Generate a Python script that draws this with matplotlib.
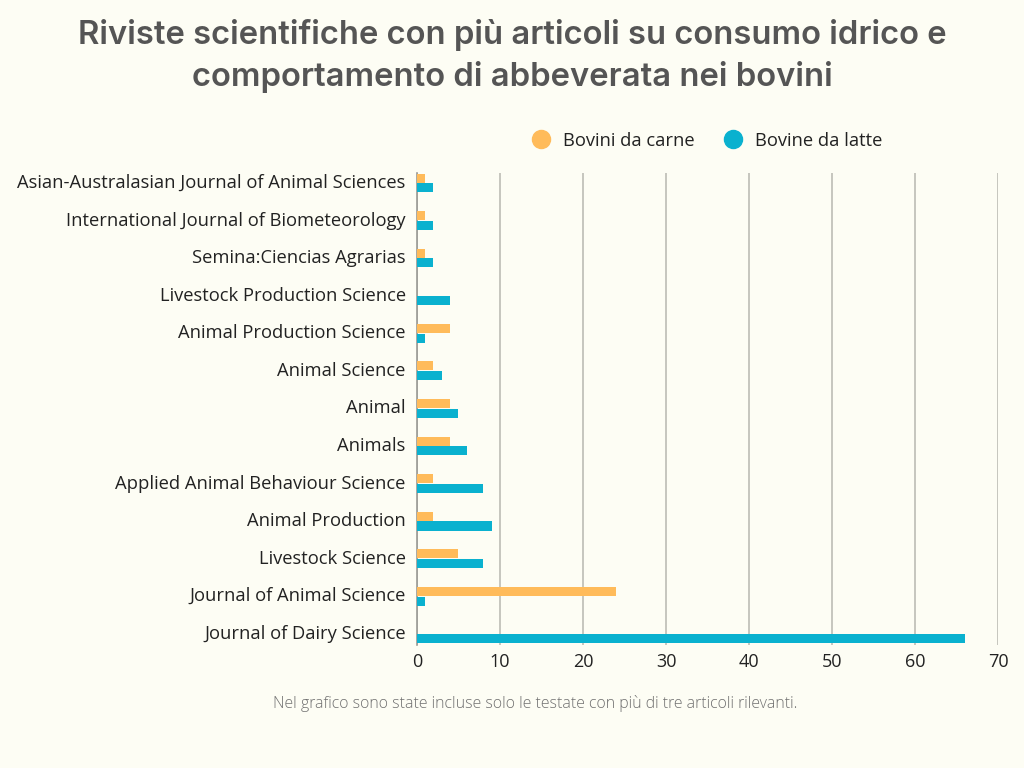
import matplotlib
matplotlib.use("Agg")
import matplotlib.pyplot as plt
import numpy as np
from matplotlib.lines import Line2D
from matplotlib.transforms import ScaledTranslation

journals = [
    "Asian-Australasian Journal of Animal Sciences",
    "International Journal of Biometeorology",
    "Semina:Ciencias Agrarias",
    "Livestock Production Science",
    "Animal Production Science",
    "Animal Science",
    "Animal",
    "Animals",
    "Applied Animal Behaviour Science",
    "Animal Production",
    "Livestock Science",
    "Journal of Animal Science",
    "Journal of Dairy Science",
]
carne = [1, 1, 1, 0, 4, 2, 4, 4, 2, 2, 5, 24, 0]
latte = [2, 2, 2, 4, 1, 3, 5, 6, 8, 9, 8, 1, 66]
series_names = ["Bovini da carne", "Bovine da latte"]
xticks = [0, 10, 20, 30, 40, 50, 60, 70]

BG = "#FDFDF4"
C_CARNE = "#FFBB5A"
C_LATTE = "#0AB1CF"
TXT = "#222222"

fig = plt.figure(figsize=(10.24, 7.68), dpi=100, facecolor=BG)
ax = fig.add_axes([0.407, 0.16, 0.568, 0.615])
ax.set_facecolor(BG)

n = len(journals)
y = np.arange(n)[::-1]
h = 0.24
ax.barh(y + 0.13, carne, height=h, color=C_CARNE, zorder=3)
ax.barh(y - 0.13, latte, height=h, color=C_LATTE, zorder=3)

ax.set_xlim(0, 70)
ax.set_ylim(-0.3, n - 1 + 0.27)
ax.set_xticks(xticks)
ax.set_xticklabels([str(t) for t in xticks], fontsize=13, family="Open Sans", color=TXT)
ax.set_yticks(y)
ax.set_yticklabels(journals, fontsize=13.2, family="Open Sans", color=TXT)
ax.tick_params(axis="y", length=0, pad=8)
ax.tick_params(axis="x", length=0, pad=6)
shift = ScaledTranslation(0, 2 / 100, fig.dpi_scale_trans)
for lbl in ax.get_yticklabels():
    lbl.set_transform(lbl.get_transform() + shift)
ax.grid(axis="x", color="#BDBDB5", linewidth=1.2, zorder=0)
for s in ["top", "right", "bottom"]:
    ax.spines[s].set_visible(False)
ax.spines["left"].set_color("#9A9A94")
ax.spines["left"].set_linewidth(1.2)

handles = [Line2D([], [], marker="o", linestyle="", markersize=13, color=C_CARNE),
           Line2D([], [], marker="o", linestyle="", markersize=13, color=C_LATTE)]
leg = fig.legend(handles, series_names, loc="center", bbox_to_anchor=(0.686, 0.817), ncol=2,
                 frameon=False, handletextpad=0.2, columnspacing=1.05,
                 prop={"family": "Open Sans", "size": 13.2})
for t in leg.get_texts():
    t.set_color(TXT)

fig.text(0.5, 0.927, "Riviste scientifiche con più articoli su consumo idrico e\ncomportamento di abbeverata nei bovini",
         ha="center", va="center", fontsize=23.6, family="Inter", fontweight="semibold",
         color="#555555", linespacing=1.42)
fig.text(0.523, 0.084, "Nel grafico sono state incluse solo le testate con più di tre articoli rilevanti.",
         ha="center", va="center", fontsize=11.4, family="Open Sans", fontweight="light",
         color="#707070")

fig.savefig("out.png", dpi=100, facecolor=BG)
